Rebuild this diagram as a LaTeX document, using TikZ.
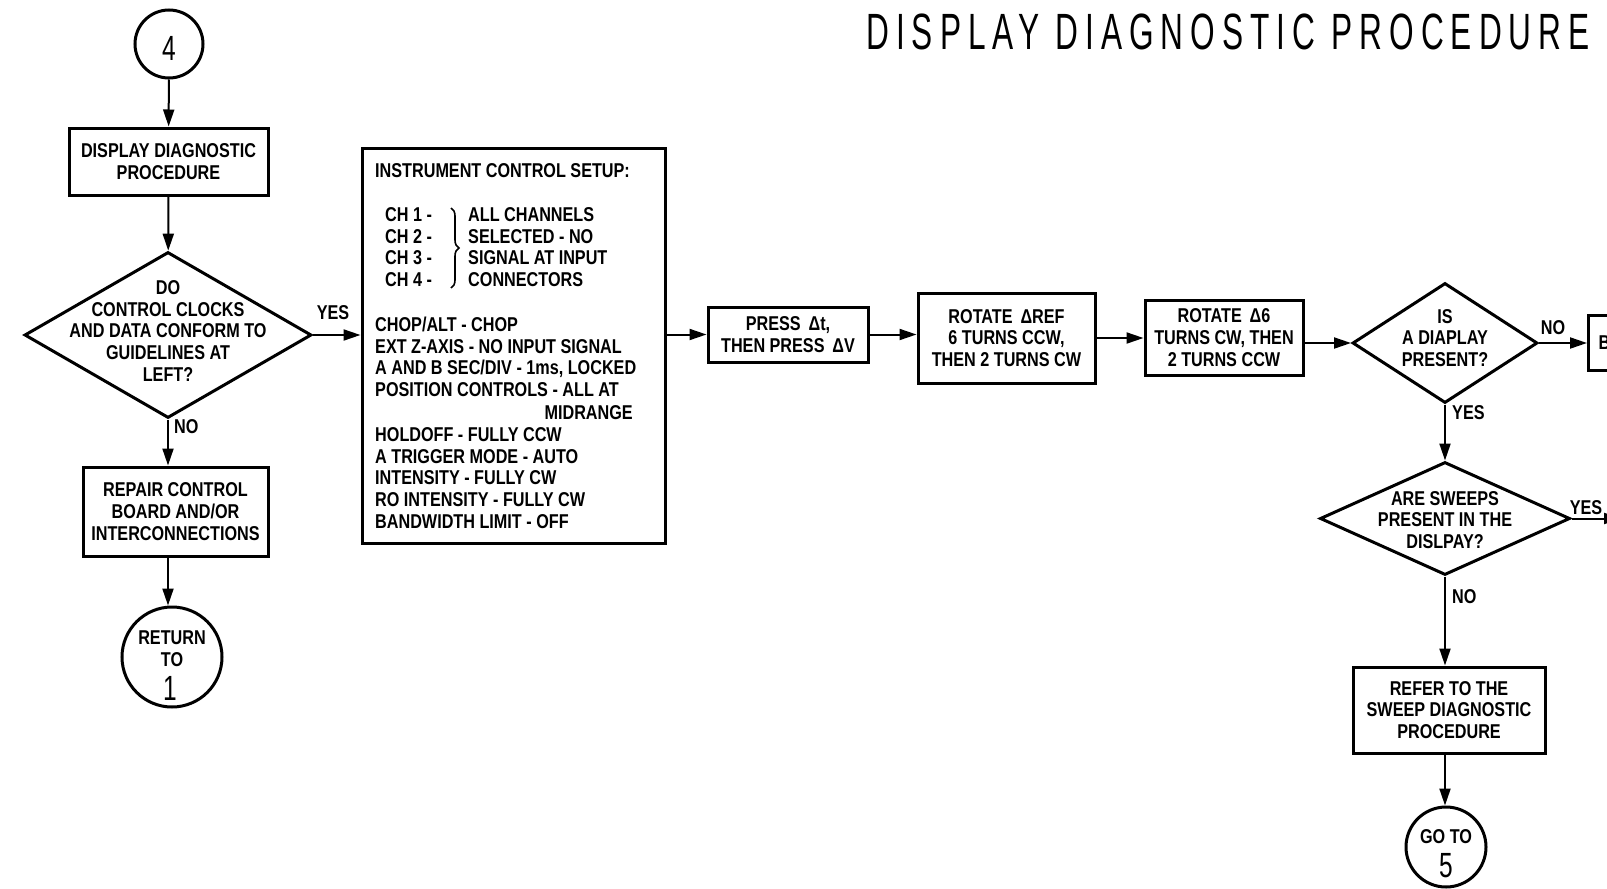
\documentclass[tikz,border=0pt]{standalone}
\usepackage{fontspec}
\usetikzlibrary{shapes.geometric,arrows.meta,decorations.pathreplacing}
\newfontfamily\boxfont{Liberation Sans}[FakeStretch=0.81]
\newfontfamily\titlefont{Liberation Sans}[FakeStretch=0.62,LetterSpace=13.8]
\newfontfamily\numfont{Liberation Sans}[FakeStretch=0.7]
\begin{document}
\begin{tikzpicture}[x={(1pt,0pt)},y={(0pt,-1pt)},
  every node/.style={font=\boxfont\bfseries\fontsize{20}{21.7}\selectfont, inner sep=0pt},
  box/.style={draw, line width=3pt, align=center},
  dia/.style={draw, diamond, line width=3pt, inner sep=0pt},
  arr/.style={line width=2pt, -{Triangle[length=17pt,width=11pt]}},
  circ/.style={draw, circle, line width=3pt, inner sep=0pt},
  thin/.style={font=\numfont\fontsize{35}{35}\selectfont},
  tx/.style={anchor=base west}]
\fill[white] (0,0) rectangle (1607,889);
\useasboundingbox (0,0) rectangle (1607,889);

% title
\node (title) [anchor=base west, font=\titlefont\fontsize{51}{51}\selectfont] at (866,49) {DISPLAY DIAGNOSTIC PROCEDURE};

% left column
\node (c4) [circ, minimum size=68] at (169,44) {};
\node (c4t) [thin] at (169,48) {4};
\node (b1) [box, minimum width=199, minimum height=67] at (168.5,161.5) {DISPLAY DIAGNOSTIC\\PROCEDURE};
\node (d1) [dia, minimum width=287, minimum height=166] at (168,335) {};
\node (d1t) [align=center] at (168,331) {DO\\CONTROL CLOCKS\\AND DATA CONFORM TO\\GUIDELINES AT\\LEFT?};
\node (yes1) at (333,313) {YES};
\node (no1) [anchor=west] at (174,427) {NO};
\node (b2) [box, minimum width=185, minimum height=89] at (175.5,511.5) {REPAIR CONTROL\\BOARD AND/OR\\INTERCONNECTIONS};
\node (ret) [circ, minimum size=100] at (172,657) {};
\node (rett) [align=center] at (172,649) {RETURN\\TO};
\node (ret1) [thin] at (170,688) {1};

\draw[arr] (c4) -- (b1);
\draw[arr] (b1) -- (d1);
\draw[arr] (d1.south) -- (d1.south |- b2.north);
\draw[arr] (d1.south |- b2.south) -- (d1.south |- ret.north);

% instrument setup box
\node (inst) [box, minimum width=303, minimum height=395] at (513.5,345.5) {};
\node (ih) [tx] at (375,177.5) {INSTRUMENT CONTROL SETUP:};
\node (ch1) [tx] at (385,221.5) {CH 1 -};
\node (ch2) [tx] at (385,243.5) {CH 2 -};
\node (ch3) [tx] at (385,264.5) {CH 3 -};
\node (ch4) [tx] at (385,286.5) {CH 4 -};
\draw[line width=1.6pt, decorate, decoration={brace, amplitude=8pt}] (451,208) -- (451,288);
\node (cr1) [tx] at (468,221.5) {ALL CHANNELS};
\node (cr2) [tx] at (468,243.5) {SELECTED - NO};
\node (cr3) [tx] at (468,264.5) {SIGNAL AT INPUT};
\node (cr4) [tx] at (468,286.5) {CONNECTORS};
\node (l1) [tx] at (375,331.5) {CHOP/ALT - CHOP};
\node (l2) [tx] at (375,353.5) {EXT Z-AXIS - NO INPUT SIGNAL};
\node (l3) [tx] at (375,374.5) {A AND B SEC/DIV - 1ms, LOCKED};
\node (l4) [tx] at (375,396.5) {POSITION CONTROLS - ALL AT};
\node (l5) [anchor=base east] at (633,419.5) {MIDRANGE};
\node (l6) [tx] at (375,441.5) {HOLDOFF - FULLY CCW};
\node (l7) [tx] at (375,463.5) {A TRIGGER MODE - AUTO};
\node (l8) [tx] at (375,484.5) {INTENSITY - FULLY CW};
\node (l9) [tx] at (375,506.5) {RO INTENSITY - FULLY CW};
\node (l10) [tx] at (375,528.5) {BANDWIDTH LIMIT - OFF};

\draw[arr] (d1.east) -- (d1.east -| inst.west);

% main row
\node (pr) [box, minimum width=160, minimum height=55] at (788,334.5) {PRESS \,Δt,\\THEN PRESS \,ΔV};
\node (r1) [box, minimum width=177, minimum height=90] at (1006.5,338) {ROTATE \,ΔREF\\6 TURNS CCW,\\THEN 2 TURNS CW};
\node (b3) [box, minimum width=158, minimum height=75] at (1224,337.5) {ROTATE \,Δ6\\TURNS CW, THEN\\2 TURNS CCW};
\draw[arr] (pr.west -| inst.east) -- (pr.west);
\draw[arr] (pr.east) -- (pr.east -| r1.west);
\draw[arr] (r1.east) -- (r1.east -| b3.west);

% right column
\node (d2) [dia, minimum width=185, minimum height=120] at (1445,343) {};
\node (d2t) [align=center] at (1445,338) {IS\\A DIAPLAY\\PRESENT?};
\draw[arr] (b3.east |- d2.west) -- (d2.west);
\node (no2) at (1553,328) {NO};
\node (bb) [draw, line width=3pt, anchor=west, minimum height=55, text width=40pt, inner xsep=10pt, align=left] at (1587,342.5) {B};
\draw[arr] (d2.east) -- (d2.east -| bb.west);
\node (yes2) [anchor=west] at (1452,413) {YES};
\node (d3) [dia, minimum width=250, minimum height=113] at (1445,518.5) {};
\node (d3t) [align=center] at (1445,520) {ARE SWEEPS\\PRESENT IN THE\\DISLPAY?};
\draw[arr] (d2.south) -- (d3.north);
\node (yes3) at (1586,508) {YES};
\coordinate (yesend) at (1621,518.5);
\draw[arr] (d3.east) -- (yesend);
\node (no3) [anchor=west] at (1452,597) {NO};
\node (b4) [box, minimum width=192, minimum height=86] at (1449,710) {REFER TO THE\\SWEEP DIAGNOSTIC\\PROCEDURE};
\draw[arr] (d3.south) -- (d3.south |- b4.north);
\node (go) [circ, minimum size=80] at (1446,847) {};
\node (got) at (1446,837) {GO TO};
\node (go5) [thin] at (1446,866) {5};
\draw[arr] (d3.south |- b4.south) -- (d3.south |- go.north);
\end{tikzpicture}
\end{document}
